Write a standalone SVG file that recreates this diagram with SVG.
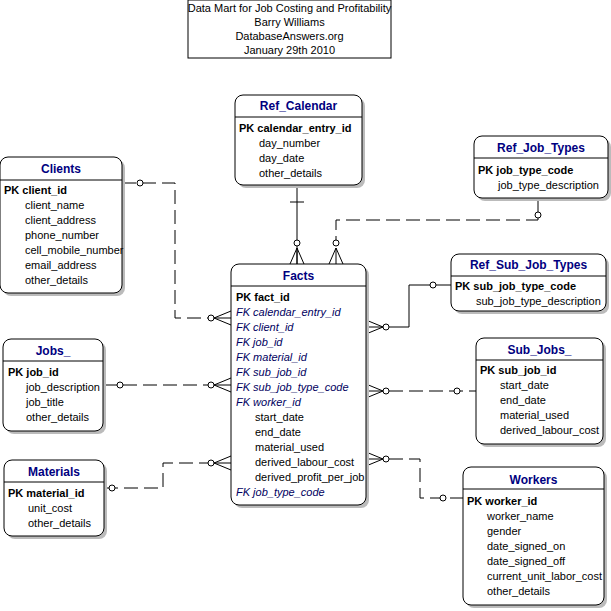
<svg xmlns="http://www.w3.org/2000/svg" width="611" height="611" viewBox="0 0 611 611">
<style>
.box{fill:#fff;stroke:#000;stroke-width:1}
.sh{fill:#bbb}
.t{font-family:"Liberation Sans",Arial,sans-serif;font-size:11px}
.h{font-family:"Liberation Sans",Arial,sans-serif;font-size:12px;fill:#000080;text-anchor:middle}
.b{font-weight:bold}
.fk{font-style:italic;fill:#000060}
.c{fill:none;stroke:#000;stroke-width:1}
.d{stroke-dasharray:14,6}
.o{fill:#fff;stroke:#000}
</style>
<rect width="611" height="611" fill="#fff"/>
<g id="title"><rect x="188" y="0" width="203" height="58" class="box"/>
<text class="t" x="289.5" y="12" text-anchor="middle">Data Mart for Job Costing and Profitability</text>
<text class="t" x="289.5" y="26" text-anchor="middle">Barry Williams</text>
<text class="t" x="289.5" y="40" text-anchor="middle">DatabaseAnswers.org</text>
<text class="t" x="289.5" y="54" text-anchor="middle">January 29th 2010</text></g>

<g id="connectors">
<path class="c" d="M297 185V264M290 202H304"/>
<path class="c" d="M290 264L297 248L304 264M297 248V264"/><circle class="o" cx="297" cy="243" r="3"/>
<path class="c d" d="M538 198V220H336V243"/><circle class="o" cx="538" cy="215" r="3"/>
<path class="c" d="M329 264L336 248L343 264M336 248V264"/><circle class="o" cx="336" cy="243" r="3"/>
<path class="c d" d="M122 183H175V318H211"/><circle class="o" cx="140" cy="183" r="3"/>
<path class="c" d="M231 311L214 318L231 325M214 318H231"/><circle class="o" cx="211" cy="318" r="3"/>
<path class="c" d="M389 327H409V285H451"/><circle class="o" cx="433" cy="285" r="3"/>
<path class="c" d="M366 320L383 327L366 334M366 327H383"/><circle class="o" cx="386" cy="327" r="3"/>
<path class="c d" d="M103 385H211"/><circle class="o" cx="120" cy="385" r="3"/>
<path class="c" d="M231 378L214 385L231 392M214 385H231"/><circle class="o" cx="211" cy="385" r="3"/>
<path class="c d" d="M389 391H476"/><circle class="o" cx="457" cy="391" r="3"/>
<path class="c" d="M366 384L383 391L366 398M366 391H383"/><circle class="o" cx="386" cy="391" r="3"/>
<path class="c d" d="M104 488H163V463H211"/><circle class="o" cx="112" cy="488" r="3"/>
<path class="c" d="M231 456L214 463L231 470M214 463H231"/><circle class="o" cx="211" cy="463" r="3"/>
<path class="c d" d="M389 459H420V498H463"/><circle class="o" cx="443" cy="498" r="3"/>
<path class="c" d="M366 452L383 459L366 466M366 459H383"/><circle class="o" cx="386" cy="459" r="3"/>
</g>

<g id="Ref_Calendar"><rect class="sh" x="238" y="98" width="127" height="90" rx="8"/><rect class="box" x="235" y="95" width="127" height="90" rx="8"/><line class="c" x1="235" y1="117" x2="362" y2="117"/>
<text class="h b" x="298.5" y="110">Ref_Calendar</text>
<text class="t b" x="239" y="132">PK  calendar_entry_id</text>
<text class="t" x="259" y="147">day_number</text><text class="t" x="259" y="162">day_date</text><text class="t" x="259" y="177">other_details</text></g>

<g id="Ref_Job_Types"><rect class="sh" x="477" y="139" width="134" height="62" rx="8"/><rect class="box" x="474" y="136" width="134" height="62" rx="8"/><line class="c" x1="474" y1="158" x2="608" y2="158"/>
<text class="h b" x="541" y="152">Ref_Job_Types</text>
<text class="t b" x="478" y="174">PK  job_type_code</text>
<text class="t" x="498" y="189">job_type_description</text></g>

<g id="Clients"><rect class="sh" x="3" y="160" width="122" height="136" rx="8"/><rect class="box" x="0" y="157" width="122" height="136" rx="8"/><line class="c" x1="0" y1="180" x2="122" y2="180"/>
<text class="h b" x="61" y="173">Clients</text>
<text class="t b" x="4" y="194">PK  client_id</text>
<text class="t" x="25" y="209">client_name</text><text class="t" x="25" y="224">client_address</text><text class="t" x="25" y="239">phone_number</text><text class="t" x="25" y="254">cell_mobile_number</text><text class="t" x="25" y="269">email_address</text><text class="t" x="25" y="284">other_details</text></g>

<g id="Ref_Sub_Job_Types"><rect class="sh" x="454" y="257" width="155" height="57" rx="8"/><rect class="box" x="451" y="254" width="155" height="57" rx="8"/><line class="c" x1="451" y1="276" x2="606" y2="276"/>
<text class="h b" x="528.5" y="269">Ref_Sub_Job_Types</text>
<text class="t b" x="455" y="290">PK  sub_job_type_code</text>
<text class="t" x="476" y="305">sub_job_type_description</text></g>

<g id="Facts"><rect class="sh" x="234" y="267" width="135" height="241" rx="8"/><rect class="box" x="231" y="264" width="135" height="241" rx="8"/><line class="c" x1="231" y1="286" x2="366" y2="286"/>
<text class="h b" x="298.5" y="280">Facts</text>
<text class="t b" x="236" y="301">PK  fact_id</text>
<g class="t fk"><text x="236" y="316">FK  calendar_entry_id</text><text x="236" y="331">FK  client_id</text><text x="236" y="346">FK  job_id</text><text x="236" y="361">FK  material_id</text><text x="236" y="376">FK  sub_job_id</text><text x="236" y="391">FK  sub_job_type_code</text><text x="236" y="406">FK  worker_id</text><text x="236" y="496">FK  job_type_code</text></g>
<text class="t" x="255" y="421">start_date</text><text class="t" x="255" y="436">end_date</text><text class="t" x="255" y="451">material_used</text><text class="t" x="255" y="466">derived_labour_cost</text><text class="t" x="255" y="481">derived_profit_per_job</text></g>

<g id="Jobs_"><rect class="sh" x="6" y="342" width="100" height="92" rx="8"/><rect class="box" x="3" y="339" width="100" height="92" rx="8"/><line class="c" x1="3" y1="361" x2="103" y2="361"/>
<text class="h b" x="53" y="355">Jobs_</text>
<text class="t b" x="8" y="376">PK  job_id</text>
<text class="t" x="26" y="391">job_description</text><text class="t" x="26" y="406">job_title</text><text class="t" x="26" y="421">other_details</text></g>

<g id="Sub_Jobs_"><rect class="sh" x="479" y="341" width="127" height="106" rx="8"/><rect class="box" x="476" y="338" width="127" height="106" rx="8"/><line class="c" x1="476" y1="360" x2="603" y2="360"/>
<text class="h b" x="539.5" y="354">Sub_Jobs_</text>
<text class="t b" x="480" y="374">PK  sub_job_id</text>
<text class="t" x="500" y="389">start_date</text><text class="t" x="500" y="404">end_date</text><text class="t" x="500" y="419">material_used</text><text class="t" x="500" y="434">derived_labour_cost</text></g>

<g id="Materials"><rect class="sh" x="7" y="463" width="100" height="76" rx="8"/><rect class="box" x="4" y="460" width="100" height="76" rx="8"/><line class="c" x1="4" y1="482" x2="104" y2="482"/>
<text class="h b" x="54" y="476">Materials</text>
<text class="t b" x="8" y="497">PK  material_id</text>
<text class="t" x="28" y="512">unit_cost</text><text class="t" x="28" y="527">other_details</text></g>

<g id="Workers"><rect class="sh" x="466" y="470" width="141" height="138" rx="8"/><rect class="box" x="463" y="467" width="141" height="138" rx="8"/><line class="c" x1="463" y1="489" x2="604" y2="489"/>
<text class="h b" x="533.5" y="484">Workers</text>
<text class="t b" x="467" y="505">PK  worker_id</text>
<text class="t" x="487" y="520">worker_name</text><text class="t" x="487" y="535">gender</text><text class="t" x="487" y="550">date_signed_on</text><text class="t" x="487" y="565">date_signed_off</text><text class="t" x="487" y="580">current_unit_labor_cost</text><text class="t" x="487" y="595">other_details</text></g>
</svg>
